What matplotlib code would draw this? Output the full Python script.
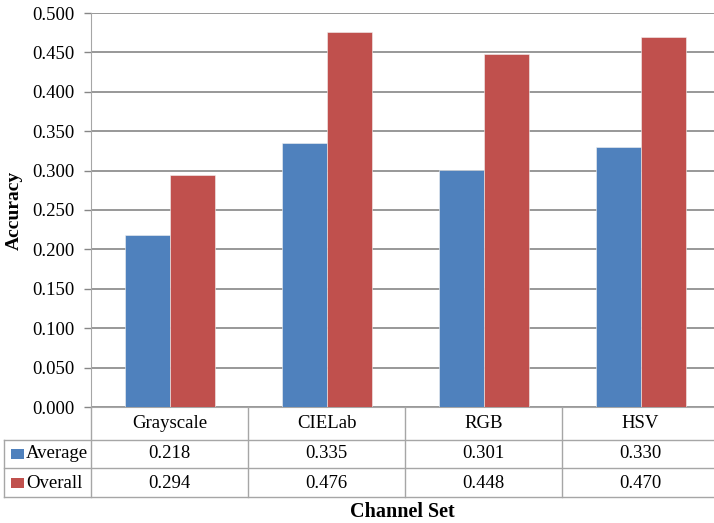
import matplotlib.pyplot as plt
from matplotlib.patches import Rectangle

categories = ["Grayscale", "CIELab", "RGB", "HSV"]
series_names = ["Average", "Overall"]
average = [0.218, 0.335, 0.301, 0.330]
overall = [0.294, 0.476, 0.448, 0.470]
y_ticks = [0.0, 0.05, 0.1, 0.15, 0.2, 0.25, 0.3, 0.35, 0.4, 0.45, 0.5]

W, H = 714, 523
colors = ["#4F81BD", "#C0504D"]
grid_c = "#868686"
line_c = "#A6A6A6"

plt.rcParams["font.family"] = ["Liberation Serif", "DejaVu Serif"]

fig = plt.figure(figsize=(W / 100, H / 100), dpi=100)
# plot area in pixels: left 91, top 13, bottom 407, 157 px per category
ax = fig.add_axes([91 / W, (H - 407) / H, 628 / W, 394 / H])

x = list(range(len(categories)))
bw = 45 / 157
ax.bar([i - bw / 2 for i in x], average, bw, color=colors[0], edgecolor="#F2F2F2", linewidth=0.4, zorder=3)
ax.bar([i + bw / 2 for i in x], overall, bw, color=colors[1], edgecolor="#F2F2F2", linewidth=0.4, zorder=3)

ax.set_xlim(-0.5, len(categories) - 0.5)
ax.set_ylim(0, 0.5)
ax.set_yticks(y_ticks)
ax.set_yticklabels([f"{v:.3f}" for v in y_ticks], fontsize=13.5)
ax.yaxis.grid(True, color=grid_c, linewidth=1.2, zorder=0)
ax.tick_params(axis="y", length=5, width=1, color=grid_c, pad=7)
ax.set_xticks([])
for s in ["top", "right"]:
    ax.spines[s].set_visible(False)
ax.spines["left"].set_color(line_c)
ax.spines["bottom"].set_color(line_c)


def px_x(px):
    return -0.5 + (px - 91) / 157


def px_y(py):
    return (407 - py) / 394


tr = ax.get_xaxis_transform()
rows = [407, 440, 468, 497]
right = len(categories) - 0.5
kw = dict(transform=tr, clip_on=False, color=line_c, linewidth=1)

# horizontal table lines
ax.plot([px_x(4), right], [px_y(440)] * 2, **kw)
ax.plot([px_x(4), right], [px_y(468)] * 2, **kw)
ax.plot([px_x(4), right], [px_y(497)] * 2, **kw)
# vertical table lines
ax.plot([px_x(4)] * 2, [px_y(440), px_y(497)], **kw)
for b in [-0.5, 0.5, 1.5, 2.5]:
    ax.plot([b, b], [0, px_y(497)], **kw)

for i, cat in enumerate(categories):
    ax.text(i, px_y(424), cat, transform=tr, ha="center", va="center", fontsize=13.5)
    ax.text(i, px_y(454), f"{average[i]:.3f}", transform=tr, ha="center", va="center", fontsize=13.5)
    ax.text(i, px_y(483), f"{overall[i]:.3f}", transform=tr, ha="center", va="center", fontsize=13.5)

for name, c, yc in zip(series_names, colors, [454, 483]):
    ax.add_patch(Rectangle((px_x(11), px_y(yc + 5)), 13 / 157, 10 / 394, transform=tr,
                           facecolor=c, edgecolor="none", clip_on=False))
    ax.text(px_x(26), px_y(yc), name, transform=tr, ha="left", va="center", fontsize=13.5)

fig.text(14 / W, 1 - 210 / H, "Accuracy", rotation=90, ha="center", va="center",
         fontsize=14, fontweight="bold")
fig.text(402 / W, 1 - 512 / H, "Channel Set", ha="center", va="center",
         fontsize=14.5, fontweight="bold")

fig.savefig("out.png", dpi=100)
